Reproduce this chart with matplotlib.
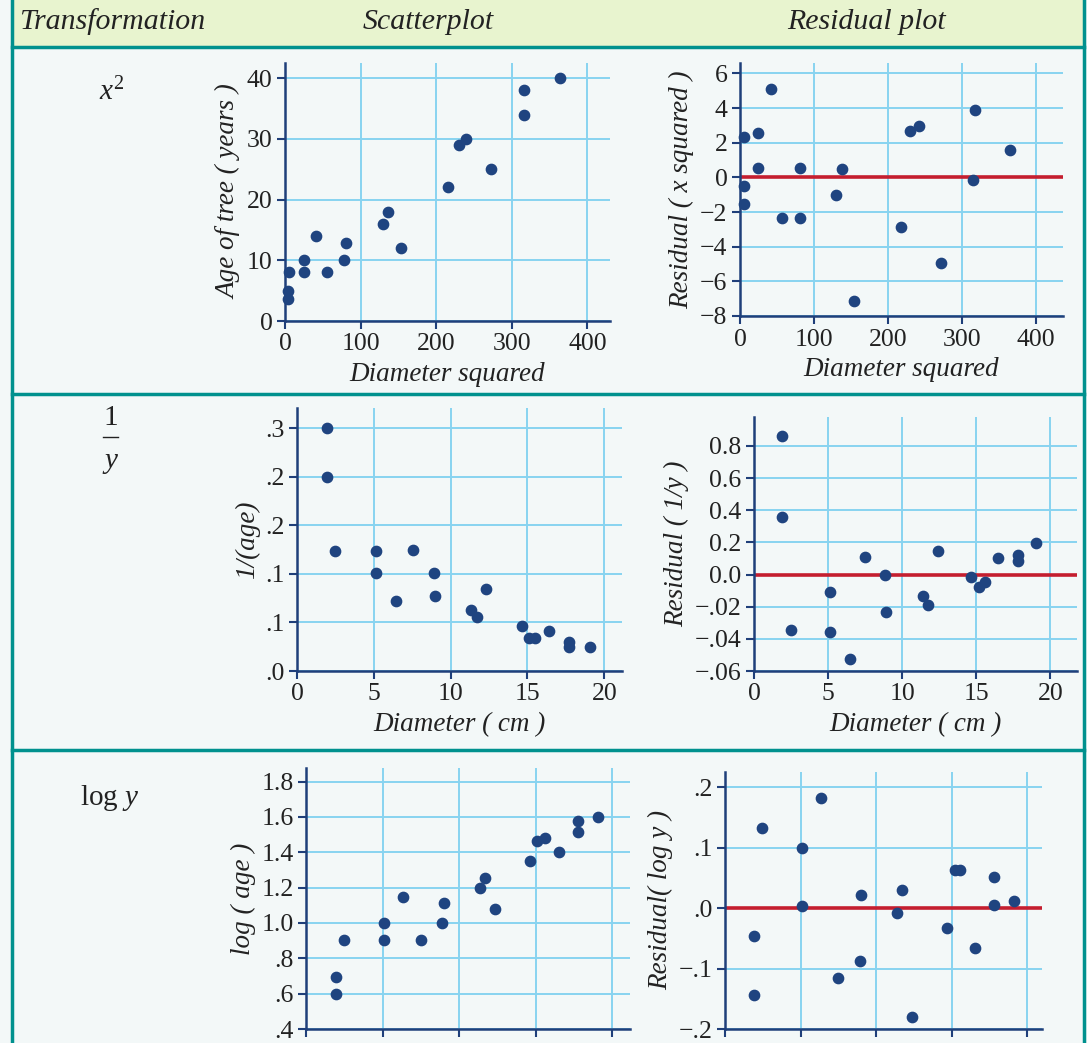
# Transformations of tree age data: scatterplots and residual plots
import matplotlib
matplotlib.use("Agg")
import matplotlib.pyplot as plt
from matplotlib.patches import Rectangle
from matplotlib.lines import Line2D

plt.rcParams["font.family"] = ["Liberation Serif", "DejaVu Serif"]
plt.rcParams["mathtext.fontset"] = "custom"
plt.rcParams["mathtext.rm"] = "Liberation Serif"
plt.rcParams["mathtext.it"] = "Liberation Serif:italic"

# ==============================================================================
# Data

# x^2 row
diam_sq = [5.7, 4.4, 4.4, 25, 25, 41, 56, 78, 81, 130, 136, 153, 215, 230, 240, 272, 316, 316, 364]
age = [8, 5, 3.7, 10, 8, 14, 8, 10, 12.8, 16, 18, 12, 22, 29, 30, 25, 38, 34, 40]
resid_sq_x = [5.9, 5.4, 5.4, 24, 24, 42, 57, 81, 81, 130, 138, 154, 218, 230, 242, 272, 315, 318.5, 365]
resid_sq = [2.31, -0.5, -1.52, 2.56, 0.52, 5.1, -2.37, 0.52, -2.37, -1.02, 0.48, -7.14,
            -2.87, 2.7, 2.95, -4.95, -0.13, 3.89, 1.56]

# 1/y row
diam_inv = [1.98, 1.98, 2.46, 5.13, 5.13, 6.43, 7.52, 8.91, 9.0, 11.3, 11.74, 12.33,
            14.65, 15.13, 15.5, 16.41, 17.72, 17.72, 19.04]
inv_age = [0.25, 0.2, 0.124, 0.124, 0.101, 0.072, 0.125, 0.101, 0.077, 0.063, 0.056, 0.084,
           0.046, 0.034, 0.034, 0.041, 0.030, 0.025, 0.025]
inv_ticks = [0, 0.05, 0.10, 0.15, 0.20, 0.25]
inv_ticklabels = [".0", ".1", ".1", ".2", ".2", ".3"]
diam_rinv = [1.91, 1.91, 2.52, 5.15, 5.15, 6.45, 7.48, 8.81, 8.94, 11.39, 11.71, 12.43,
             14.63, 15.21, 15.6, 16.45, 17.8, 17.8, 19.06]
resid_inv = [0.859, 0.357, -0.344, -0.106, -0.357, -0.525, 0.112, -0.002, -0.23, -0.135,
             -0.191, 0.149, -0.015, -0.079, -0.048, 0.102, 0.122, 0.085, 0.199]
rinv_ticks = [-0.6, -0.4, -0.2, 0.0, 0.2, 0.4, 0.6, 0.8]
rinv_ticklabels = ["\u2212.06", "\u2212.04", "\u2212.02", "0.0", "0.2", "0.4", "0.6", "0.8"]

# log y row
diam_log = [1.98, 1.98, 2.46, 5.09, 5.09, 6.35, 7.51, 8.88, 8.99, 11.4, 11.7, 12.36,
            14.65, 15.12, 15.63, 16.52, 17.8, 17.8, 19.06]
log_age = [0.694, 0.598, 0.902, 1.0, 0.902, 1.149, 0.902, 1.0, 1.113, 1.2, 1.253, 1.077,
           1.349, 1.462, 1.479, 1.402, 1.515, 1.575, 1.602]
log_ticks = [0.4, 0.6, 0.8, 1.0, 1.2, 1.4, 1.6, 1.8]
log_ticklabels = [".4", ".6", ".8", "1.0", "1.2", "1.4", "1.6", "1.8"]
diam_rlog = [1.94, 1.94, 2.43, 5.1, 5.1, 6.36, 7.48, 8.94, 8.98, 11.37, 11.7, 12.38,
             14.7, 15.23, 15.56, 16.51, 17.79, 17.79, 19.09]
resid_log = [-0.047, -0.143, 0.132, 0.0996, 0.0033, 0.182, -0.1155, -0.087, 0.022, -0.0077,
             0.030, -0.180, -0.0325, 0.063, 0.063, -0.066, 0.052, 0.005, 0.012]
rlog_ticks = [-0.2, -0.1, 0.0, 0.1, 0.2]
rlog_ticklabels = ["\u2212.2", "\u2212.1", ".0", ".1", ".2"]

# ==============================================================================

W, H = 1087, 1043
BG = "#f3f8f8"
HEAD = "#e8f4cf"
TEAL = "#00918e"
GRID = "#88d3f0"
SPINE = "#1f3f7a"
DOT = "#1f4480"
RED = "#c41e2f"
INK = "#222222"

fig = plt.figure(figsize=(W / 100, H / 100), dpi=100)
fig.patch.set_facecolor(BG)

def fx(px):
  return px / W

def fy(py):
  return 1 - py / H

# Table background and rules
fig.patches.append(Rectangle((fx(12), fy(47)), fx(1072), 47 / H, transform=fig.transFigure,
                             facecolor=HEAD, edgecolor="none", zorder=0))
for y in [47, 394, 750]:
  fig.add_artist(Line2D([fx(12), fx(1084)], [fy(y), fy(y)], color=TEAL, lw=2.5))
for x in [12, 1084]:
  fig.add_artist(Line2D([fx(x), fx(x)], [0, 1], color=TEAL, lw=2.5))

hfont = dict(fontsize=21.5, style="italic", color=INK, va="center")
fig.text(fx(19), fy(22), "Transformation", ha="left", **hfont)
fig.text(fx(428), fy(22), "Scatterplot", ha="center", **hfont)
fig.text(fx(866), fy(22), "Residual plot", ha="center", **hfont)

# Row labels
fig.text(fx(112), fy(92), r"$x^2$", fontsize=21, ha="center", va="center", color=INK)
fig.text(fx(111), fy(418), "1", fontsize=21, ha="center", va="center", color=INK)
fig.add_artist(Line2D([fx(103), fx(118)], [fy(437), fy(437)], color=INK, lw=1))
fig.text(fx(111), fy(461), "y", fontsize=21, style="italic", ha="center", va="center", color=INK)
fig.text(fx(110), fy(798), r"log $y$", fontsize=21, ha="center", va="center", color=INK)


def panel(rect_px, xs, ys, xlim, ylim, xticks, yticks, yticklabels=None,
          xlabel=None, ylabel=None, resid=False, show_xlabels=True):
  l, t, r, b = rect_px
  ax = fig.add_axes([fx(l), fy(b), (r - l) / W, (b - t) / H])
  ax.set_facecolor(BG)
  ax.set_xlim(*xlim)
  ax.set_ylim(*ylim)
  ax.set_xticks(xticks)
  ax.set_yticks(yticks)
  if yticklabels is not None:
    ax.set_yticklabels(yticklabels)
  ax.grid(True, color=GRID, lw=1.4, zorder=0)
  ax.set_axisbelow(True)
  for s in ["top", "right"]:
    ax.spines[s].set_visible(False)
  for s in ["left", "bottom"]:
    ax.spines[s].set_color(SPINE)
    ax.spines[s].set_linewidth(1.8)
  ax.tick_params(direction="out", length=6, width=1.5, color=SPINE,
                 labelsize=18.5, labelcolor=INK, pad=3,
                 labelbottom=show_xlabels)
  if resid:
    ax.axhline(0, color=RED, lw=2.6, zorder=2)
  ax.scatter(xs, ys, s=55, color=DOT, zorder=3, clip_on=False)
  if xlabel:
    ax.set_xlabel(xlabel, fontsize=19.5, style="italic", color=INK, labelpad=5)
  if ylabel:
    ax.set_ylabel(ylabel, fontsize=19.5, style="italic", color=INK, labelpad=4)
  return ax

# Row 1
panel((285, 63, 610, 321), diam_sq, age, (0, 430), (0, 42.5),
      [0, 100, 200, 300, 400], [0, 10, 20, 30, 40],
      xlabel="Diameter squared", ylabel="Age of tree ( years )")
panel((740, 63, 1063, 316), resid_sq_x, resid_sq, (0, 437), (-8, 6.6),
      [0, 100, 200, 300, 400], [-8, -6, -4, -2, 0, 2, 4, 6],
      yticklabels=["\u22128", "\u22126", "\u22124", "\u22122", "0", "2", "4", "6"],
      xlabel="Diameter squared", ylabel="Residual ( x squared )", resid=True)

# Row 2
panel((297, 408, 622, 671), diam_inv, inv_age, (0, 21.15), (0, 0.271),
      [0, 5, 10, 15, 20], inv_ticks, yticklabels=inv_ticklabels,
      xlabel="Diameter ( cm )", ylabel="1/(age)")
panel((754, 417, 1077, 671), diam_rinv, resid_inv, (0, 21.8), (-0.6, 0.98),
      [0, 5, 10, 15, 20], rinv_ticks, yticklabels=rinv_ticklabels,
      xlabel="Diameter ( cm )", ylabel="Residual ( 1/y )", resid=True)

# Row 3
panel((306, 768, 630, 1029), diam_log, log_age, (0, 21.17), (0.4, 1.877),
      [0, 5, 10, 15, 20], log_ticks, yticklabels=log_ticklabels,
      ylabel="log ( age )", show_xlabels=False)
panel((725, 772, 1042, 1029), diam_rlog, resid_log, (0, 20.97), (-0.2, 0.225),
      [0, 5, 10, 15, 20], rlog_ticks, yticklabels=rlog_ticklabels,
      ylabel="Residual( log y )", resid=True, show_xlabels=False)

fig.savefig("out.png", dpi=100, facecolor=BG)
